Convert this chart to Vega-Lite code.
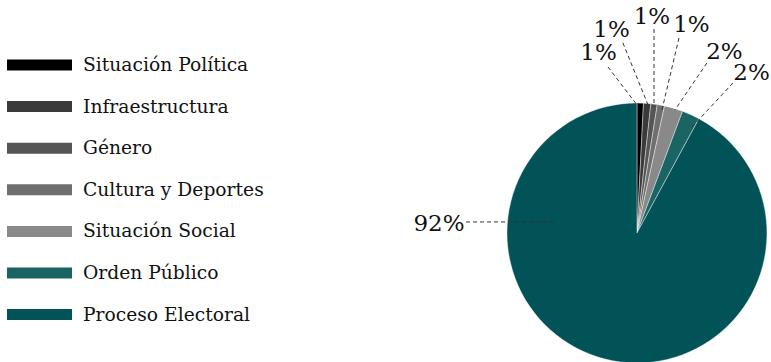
{
  "$schema": "https://vega.github.io/schema/vega-lite/v6.json",
  "width": 771,
  "height": 362,
  "autosize": "none",
  "padding": 0,
  "background": "white",
  "config": {
    "view": {"stroke": null},
    "font": "DejaVu Serif"
  },
  "data": {
    "values": [
      {"cat": "Situación Política", "ord": 1, "value": 0.8, "label": "1%", "tx": -0.296, "ty": 1.385, "lx1": -0.223, "ly1": 1.277, "lx2": 0.0, "ly2": 0.985},
      {"cat": "Infraestructura", "ord": 2, "value": 0.9, "label": "1%", "tx": -0.196, "ty": 1.562, "lx1": -0.108, "ly1": 1.462, "lx2": 0.085, "ly2": 0.985},
      {"cat": "Género", "ord": 3, "value": 0.8, "label": "1%", "tx": 0.115, "ty": 1.658, "lx1": 0.131, "ly1": 1.569, "lx2": 0.131, "ly2": 0.969},
      {"cat": "Cultura y Deportes", "ord": 4, "value": 0.9, "label": "1%", "tx": 0.419, "ty": 1.6, "lx1": 0.323, "ly1": 1.5, "lx2": 0.192, "ly2": 0.946},
      {"cat": "Situación Social", "ord": 5, "value": 2.3, "label": "2%", "tx": 0.673, "ty": 1.392, "lx1": 0.538, "ly1": 1.308, "lx2": 0.292, "ly2": 0.946},
      {"cat": "Orden Público", "ord": 6, "value": 2.2, "label": "2%", "tx": 0.881, "ty": 1.231, "lx1": 0.738, "ly1": 1.154, "lx2": 0.423, "ly2": 0.815},
      {"cat": "Proceso Electoral", "ord": 7, "value": 92.1, "label": "92%", "tx": -1.523, "ty": 0.069, "lx1": -1.315, "ly1": 0.085, "lx2": -0.615, "ly2": 0.085}
    ]
  },
  "layer": [
    {
      "mark": {"type": "arc", "outerRadius": 130, "stroke": "white", "strokeWidth": 0.4},
      "encoding": {
        "x": {"datum": 0, "type": "quantitative", "scale": {"domain": [-4.9, 1.031], "nice": false, "zero": false}, "axis": null},
        "y": {"datum": 0, "type": "quantitative", "scale": {"domain": [-0.992, 1.792], "nice": false, "zero": false}, "axis": null},
        "theta": {"field": "value", "type": "quantitative", "stack": true},
        "order": {"field": "ord", "type": "quantitative"},
        "color": {
          "field": "cat", "type": "nominal",
          "scale": {
            "domain": ["Situación Política", "Infraestructura", "Género", "Cultura y Deportes", "Situación Social", "Orden Público", "Proceso Electoral"],
            "range": ["#000000", "#3a3a3a", "#555555", "#6f6f6f", "#898989", "#1b6464", "#025357"]
          },
          "sort": null,
          "legend": {
            "orient": "none",
            "legendX": 7,
            "legendY": 55,
            "padding": 0,
            "title": null,
            "symbolType": "M-1,-0.55H5.5V0.55H-1Z",
            "symbolSize": 400,
            "symbolStrokeWidth": 0,
            "labelFont": "DejaVu Serif",
            "labelFontSize": 18.7,
            "labelColor": "#111111",
            "labelOffset": 56,
            "rowPadding": 21.6,
            "labelLimit": 400
          }
        }
      }
    },
    {
      "mark": {"type": "rule", "strokeDash": [4, 3], "strokeWidth": 1, "color": "#333333"},
      "encoding": {
        "x": {"field": "lx1", "type": "quantitative"},
        "y": {"field": "ly1", "type": "quantitative"},
        "x2": {"field": "lx2"},
        "y2": {"field": "ly2"}
      }
    },
    {
      "mark": {"type": "text", "font": "DejaVu Serif", "fontSize": 23, "color": "#111111", "align": "center", "baseline": "middle"},
      "encoding": {
        "x": {"field": "tx", "type": "quantitative"},
        "y": {"field": "ty", "type": "quantitative"},
        "text": {"field": "label", "type": "nominal"}
      }
    }
  ]
}
